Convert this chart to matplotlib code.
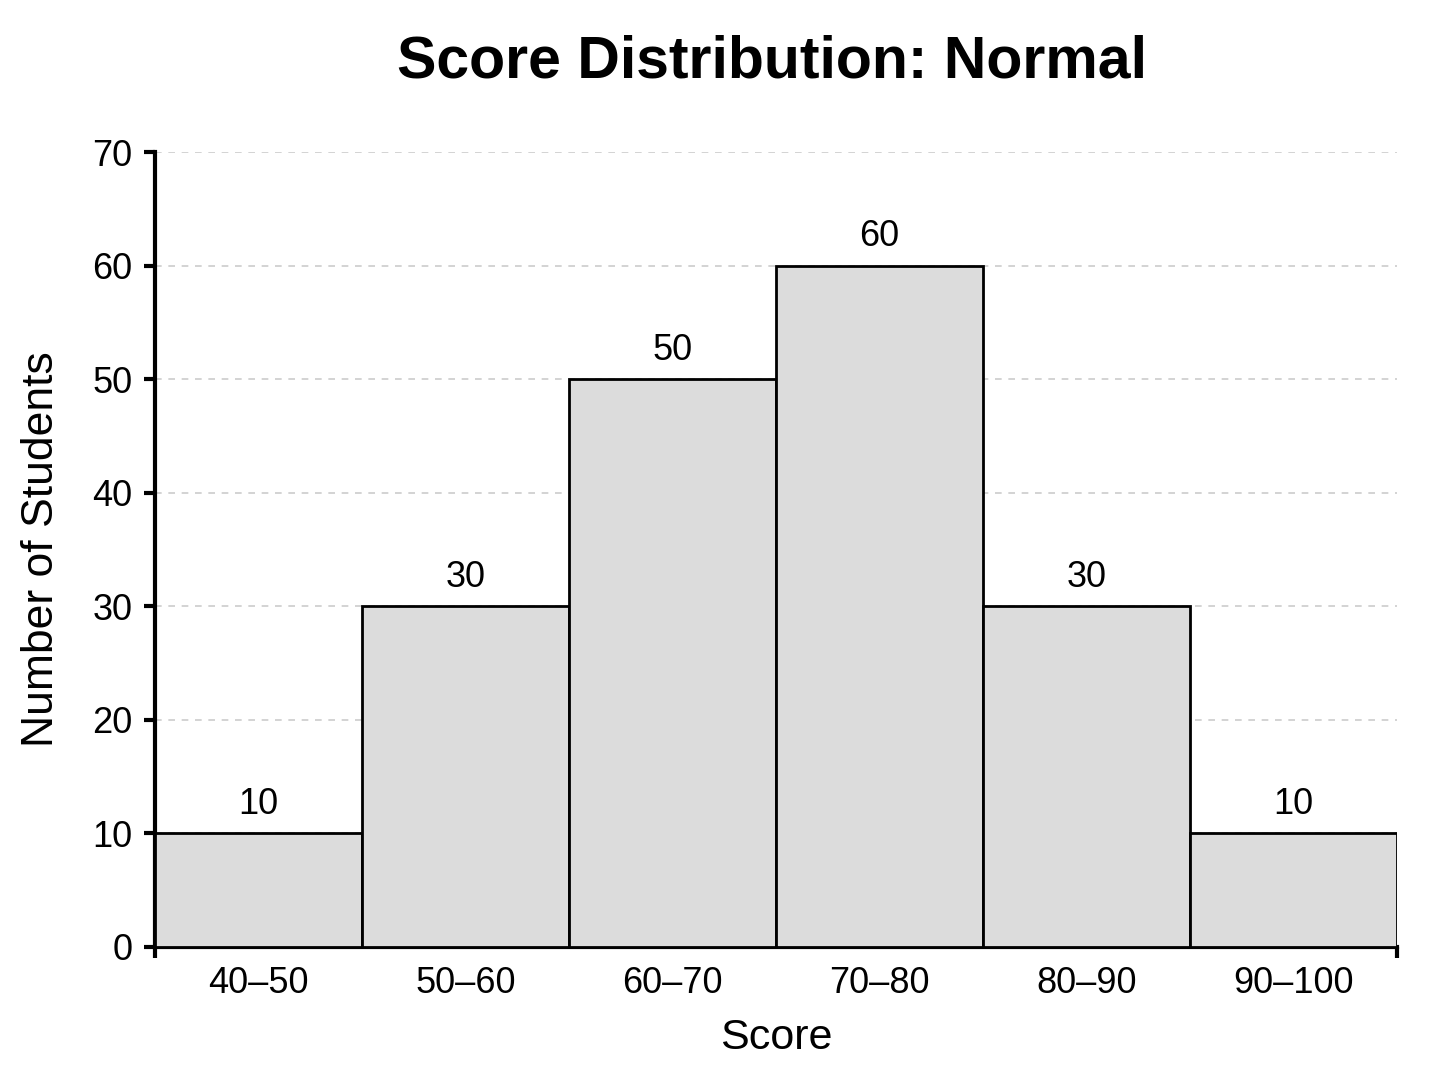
import matplotlib
matplotlib.use("Agg")
import matplotlib.pyplot as plt

categories = ["40–50", "50–60", "60–70", "70–80", "80–90", "90–100"]
counts = [10, 30, 50, 60, 30, 10]
yticks = [0, 10, 20, 30, 40, 50, 60, 70]

plt.rcParams['font.family'] = ['Liberation Sans', 'DejaVu Sans']

fig = plt.figure(figsize=(14.48, 10.86), dpi=100)
ax = fig.add_axes([0.107, 0.128, 0.858, 0.732])

x = list(range(len(categories)))
bars = ax.bar(x, counts, width=1.0, color="#dcdcdc", edgecolor="black", linewidth=2, zorder=3)
for xi, c in zip(x, counts):
    ax.text(xi, c + 1.0, str(c), ha="center", va="bottom", fontsize=26)

ax.set_xlim(-0.5, len(categories) - 0.5)
ax.set_ylim(0, 70)
ax.set_yticks(yticks)
ax.set_xticks(x)
ax.set_xticklabels(categories)
ax.tick_params(axis="x", length=0, labelsize=26, pad=14)
ax.tick_params(axis="y", length=8, width=3, labelsize=26, pad=8)
ax.set_xticks([-0.5, len(categories) - 0.5], minor=True)
ax.tick_params(axis="x", which="minor", length=8, width=3)

ax.yaxis.grid(True, linestyle=(0, (4, 4)), color="#cccccc", linewidth=1.2, zorder=0)
ax.spines["top"].set_visible(False)
ax.spines["right"].set_visible(False)
ax.spines["left"].set_linewidth(3)
ax.spines["bottom"].set_linewidth(3)

ax.set_xlabel("Score", fontsize=31, labelpad=12)
ax.set_ylabel("Number of Students", fontsize=32, labelpad=22)
fig.suptitle("Score Distribution: Normal", fontsize=42.5, fontweight="bold", x=0.533, y=0.968)

fig.savefig("out.png", dpi=100, facecolor="white")
